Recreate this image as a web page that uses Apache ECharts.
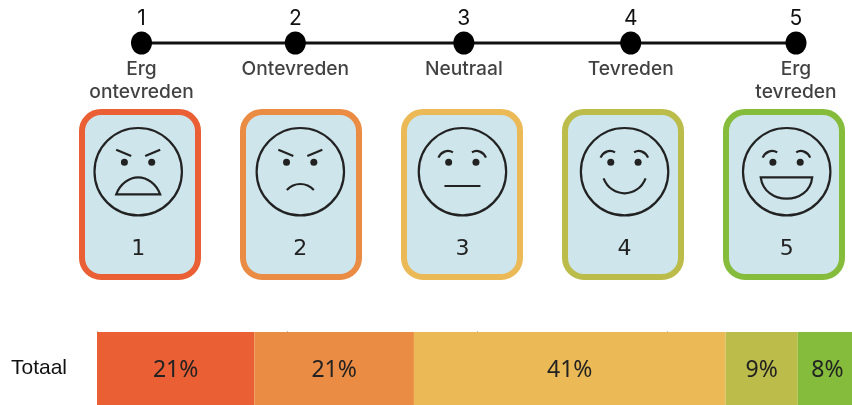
<!DOCTYPE html>
<html>
<head>
<meta charset="utf-8">
<style>
html,body{margin:0;padding:0;background:#fff}
#chart{width:852px;height:405px}
</style>
<script src="https://cdn.jsdelivr.net/npm/echarts@6/dist/echarts.min.js"></script>
</head>
<body>
<div id="chart"></div>
<script>
const scaleNumbers = ['1', '2', '3', '4', '5']
const scaleNames = ['Erg\nontevreden', 'Ontevreden', 'Neutraal', 'Tevreden', 'Erg\ntevreden']
const scalePositions = [1, 1.94, 2.97, 3.99, 5]
const cardColors = ['#EA5F33', '#EB8C44', '#EBB955', '#BBBC4A', '#86BC3B']

const barCategories = ['Totaal']
const barValues = [20.7, 21.0, 41.0, 9.5, 7.8]
const barLabels = ['21%', '21%', '41%', '9%', '8%']

const INK = '#222'

// face drawing, offsets from the middle of the face
const browsAngry = 'M-22,-22 L-7,-15.7 M22,-22 L7,-15.7'
const browsRaised = 'M-24,-14 C-21.5,-20 -15,-22.5 -9.5,-19.3 M23.5,-14 C21,-20 14.5,-22.5 9.5,-19.3'
const faces = [
  { brows: browsAngry, mouth: 'M-22,22.6 L22,22.6 C18,12 9,5.6 0,5.6 C-9,5.6 -18,12 -22,22.6 Z' },
  { brows: browsAngry, mouth: 'M-13.5,18.3 C-9,13.5 -4,12.3 0,12.3 C4,12.3 9,13.5 13.5,18.3' },
  { brows: browsRaised, mouth: 'M-18,14.3 L18,14.3' },
  { brows: browsRaised, mouth: 'M-21,6.6 C-17,17 -8,21.6 0,21.6 C8,21.6 17,17 21,6.6' },
  { brows: browsRaised, mouth: 'M-26,5.6 L25.5,5.6 C24,20 12,27 0,27 C-12,27 -24,20 -26,5.6 Z' },
]

function pathEl(d, style) {
  return { type: 'path', shape: { pathData: d }, style }
}

function renderCard(params, api) {
  const p = api.coord([params.dataIndex, 0.5])
  return {
    type: 'rect',
    shape: { x: p[0] - 58, y: p[1] - 82.5, width: 116, height: 165, r: 19 },
    style: { fill: '#CDE5EB', stroke: cardColors[params.dataIndex], lineWidth: 6 },
  }
}

function renderFace(params, api) {
  const p = api.coord([params.dataIndex, 0.5])
  const face = faces[params.dataIndex]
  const line = { fill: 'none', stroke: INK, lineWidth: 2.2 }
  return {
    type: 'group',
    x: p[0],
    y: p[1],
    children: [
      { type: 'circle', shape: { cx: 0, cy: 0, r: 43.7 }, style: line },
      { type: 'circle', shape: { cx: -13.8, cy: -9.4, r: 3.5 }, style: { fill: INK } },
      { type: 'circle', shape: { cx: 13.5, cy: -9.4, r: 3.5 }, style: { fill: INK } },
      pathEl(face.brows, line),
      pathEl(face.mouth, line),
      {
        type: 'text',
        x: 0,
        y: 77.3,
        style: {
          text: scaleNumbers[params.dataIndex],
          fill: INK,
          font: '22px "DejaVu Sans"',
          align: 'center',
          verticalAlign: 'middle',
        },
      },
    ],
  }
}

const chart = echarts.init(document.getElementById('chart'), null, { renderer: 'canvas' })

chart.setOption({
  animation: false,
  backgroundColor: '#fff',
  grid: [
    { left: 141.5, width: 654.5, top: 0, height: 86 },
    { left: 140, width: 644, top: 109, height: 171 },
    { left: 138.2, width: 648.5, top: 100, height: 143.4 },
    { left: 97, width: 755, top: 332, height: 73 },
  ],
  xAxis: [
    { gridIndex: 0, type: 'value', min: 1, max: 5, show: false },
    { gridIndex: 1, type: 'value', min: 0, max: 4, show: false },
    { gridIndex: 2, type: 'value', min: 0, max: 4, show: false },
    {
      gridIndex: 3,
      type: 'value',
      position: 'top',
      min: 0,
      max: 99.34, // the picture is cut off just before 100%
      interval: 25,
      axisLine: { show: false },
      axisLabel: { show: false },
      axisTick: { show: true, length: 1, lineStyle: { color: '#bbb', width: 1 } },
      splitLine: { show: false },
    },
  ],
  yAxis: [
    { gridIndex: 0, type: 'value', min: -1, max: 1, show: false },
    { gridIndex: 1, type: 'value', min: 0, max: 1, show: false },
    { gridIndex: 2, type: 'value', min: 0, max: 1, show: false },
    {
      gridIndex: 3,
      type: 'category',
      data: barCategories,
      axisLine: { show: true, lineStyle: { color: '#444', width: 1 } },
      axisTick: { show: false },
      axisLabel: {
        margin: 30,
        color: '#111',
        fontSize: 21,
        fontFamily: '"Liberation Sans"',
        padding: [0, 0, 2, 0],
      },
    },
  ],
  series: [
    {
      name: 'schaal',
      type: 'line',
      xAxisIndex: 0,
      yAxisIndex: 0,
      data: scalePositions.map((x) => [x, 0]),
      symbol: 'circle',
      symbolSize: [21, 23],
      lineStyle: { color: '#111', width: 3 },
      itemStyle: { color: '#000' },
      label: {
        show: true,
        position: 'top',
        distance: 2,
        color: '#111',
        fontSize: 21,
        fontFamily: 'Inter',
        formatter: (p) => scaleNumbers[p.dataIndex],
      },
    },
    {
      name: 'namen',
      type: 'scatter',
      xAxisIndex: 0,
      yAxisIndex: 0,
      data: scalePositions.map((x) => [x, 0]),
      symbolSize: 1,
      itemStyle: { color: 'transparent' },
      label: {
        show: true,
        position: 'bottom',
        distance: 14,
        color: '#111',
        fontSize: 19.2,
        fontWeight: 500,
        lineHeight: 23,
        fontFamily: 'Inter',
        formatter: (p) => scaleNames[p.dataIndex],
      },
    },
    {
      name: 'kaarten',
      type: 'custom',
      xAxisIndex: 1,
      yAxisIndex: 1,
      data: scaleNumbers,
      renderItem: renderCard,
      clip: false,
    },
    {
      name: 'gezichten',
      type: 'custom',
      xAxisIndex: 2,
      yAxisIndex: 2,
      data: scaleNumbers,
      renderItem: renderFace,
      clip: false,
      z: 3,
    },
    ...barValues.map((v, i) => ({
      name: scaleNames[i].replace('\n', ' '),
      type: 'bar',
      xAxisIndex: 3,
      yAxisIndex: 3,
      stack: 'totaal',
      barWidth: '100%',
      data: [v],
      itemStyle: { color: cardColors[i] },
      label: {
        show: true,
        position: 'inside',
        offset: [i === 4 ? 2.5 : 0, 1.5], // last bar runs off the picture
        color: '#222',
        fontSize: 23,
        fontFamily: '"Noto Sans"',
        formatter: () => barLabels[i],
      },
    })),
  ],
})
</script>
</body>
</html>
